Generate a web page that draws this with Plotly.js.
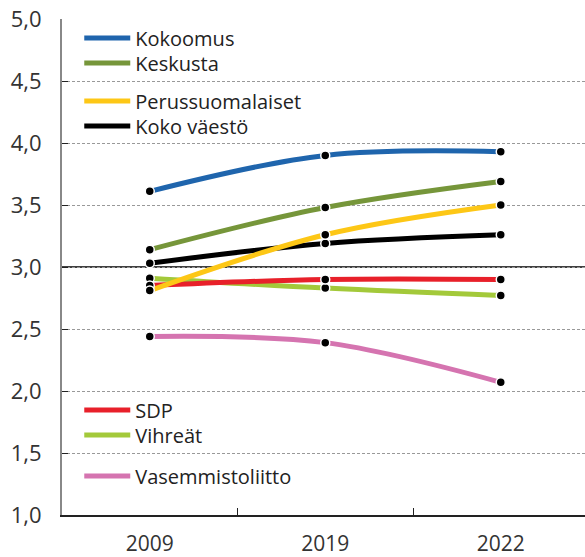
<!DOCTYPE html>
<html><head><meta charset="utf-8">
<script src="https://cdn.plot.ly/plotly-3.0.1.min.js"></script>
<style>html,body{margin:0;padding:0;background:#fff}#chart{width:585px;height:557px}</style>
</head><body><div id="chart"></div>
<script>
const years = ['2009', '2019', '2022'];
const kokoomus = [3.61, 3.90, 3.93];
const keskusta = [3.14, 3.48, 3.69];
const perussuomalaiset = [2.81, 3.26, 3.50];
const kokoVaesto = [3.03, 3.19, 3.26];
const sdp = [2.85, 2.90, 2.90];
const vihreat = [2.91, 2.83, 2.77];
const vasemmistoliitto = [2.44, 2.39, 2.07];
const referenceLevel = 3.0;
const yTicks = [1, 1.5, 2, 2.5, 3, 3.5, 4, 4.5, 5];

// drawing order (later on top); legend placement kept in a separate style table
const series = [
  {name: 'Vihreät', y: vihreat, color: '#a3c93a', shift: -3},
  {name: 'SDP', y: sdp, color: '#e8202a', shift: 3},
  {name: 'Vasemmistoliitto', y: vasemmistoliitto, color: '#d574b0', shift: 0},
  {name: 'Koko väestö', y: kokoVaesto, color: '#000000', shift: 0},
  {name: 'Perussuomalaiset', y: perussuomalaiset, color: '#fdc716', shift: 0},
  {name: 'Keskusta', y: keskusta, color: '#76963a', shift: 0},
  {name: 'Kokoomus', y: kokoomus, color: '#1f65ad', shift: 0}
];
const legendTop = {
  'Kokoomus': 1.001, 'Keskusta': 0.9506, 'Perussuomalaiset': 0.874, 'Koko väestö': 0.8236,
  'SDP': 0.251, 'Vihreät': 0.2006, 'Vasemmistoliitto': 0.118
};

const FONT = 'Open Sans, Liberation Sans, Arial, sans-serif';
const layout = {
  width: 585, height: 557,
  margin: {l: 62, r: 0, t: 19, b: 42},
  paper_bgcolor: '#fff', plot_bgcolor: '#fff',
  separators: ', ',
  font: {family: FONT, color: '#333'},
  showlegend: true,
  xaxis: {
    type: 'category', range: [-0.5, 2.48], tickson: 'boundaries',
    ticks: 'inside', ticklen: 7, tickcolor: '#222', tickwidth: 1,
    showline: true, linecolor: '#222', linewidth: 1.5,
    showgrid: false, zeroline: false, ticklabelstandoff: 9,
    tickfont: {family: FONT, size: 21, color: '#333'}
  },
  yaxis: {
    range: [1, 5], tickvals: yTicks, tickformat: '.1f',
    showline: true, linecolor: '#888', linewidth: 2,
    showgrid: true, gridcolor: '#999', griddash: '3px,2px', gridwidth: 1,
    zeroline: false, ticks: 'inside', ticklen: 6, tickcolor: '#222', tickwidth: 1,
    ticklabelstandoff: 14,
    tickfont: {family: FONT, size: 22, color: '#333'}
  },
  shapes: [{type: 'line', xref: 'paper', yref: 'y', x0: 0, x1: 1, y0: referenceLevel, y1: referenceLevel,
    line: {color: '#000', width: 1.6}, layer: 'between'}],
  annotations: []
};

const lineTraces = series.map((s, i) => {
  const key = 'legend' + (i === 0 ? '' : (i + 1));
  layout[key] = {x: 0.033, y: legendTop[s.name], xanchor: 'left', yanchor: 'top',
    bgcolor: 'rgba(0,0,0,0)', itemwidth: 46, font: {family: FONT, size: 20, color: '#222'}};
  return {
    type: 'scatter', mode: 'lines', x: years, y: s.y, name: s.name, legend: key,
    line: {color: s.color, width: 5, shape: 'spline', smoothing: 1},
    hoverinfo: 'skip'
  };
});
const markerTraces = series.map(s => ({
  type: 'scatter', mode: 'markers', x: years, y: s.y, showlegend: false,
  marker: {color: '#000', size: 9, line: {color: '#fff', width: 1.5}},
  hoverinfo: 'skip'
}));

layout.annotations = series.map(s => ({
  x: years[years.length - 1], y: s.y[s.y.length - 1], xref: 'x', yref: 'y',
  text: s.y[s.y.length - 1].toFixed(2).replace('.', ','),
  showarrow: false, xanchor: 'left', xshift: 18, yshift: s.shift,
  font: {family: FONT, size: 19, color: '#333'}
}));

Plotly.newPlot('chart', lineTraces.concat(markerTraces), layout, {displayModeBar: false, staticPlot: true});
</script></body></html>
